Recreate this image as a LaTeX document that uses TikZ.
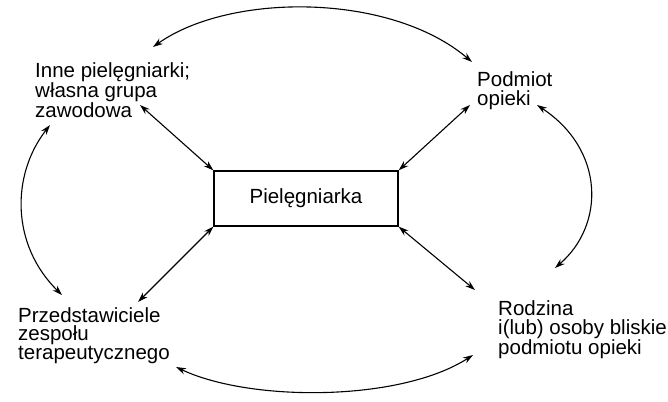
\documentclass[tikz,border=0pt]{standalone}
\usepackage{fontspec}
\setmainfont{Liberation Sans}
\usetikzlibrary{arrows.meta}
\begin{document}
\begin{tikzpicture}[x=1pt,y=-1pt,
  lbl/.style={anchor=north west, inner sep=0pt, align=left,
    font=\fontsize{20.5}{18.9}\selectfont},
  centerbox/.style={draw, line width=1.3pt, minimum width=184pt,
    minimum height=55pt, inner sep=0pt, font=\fontsize{20.5}{20}\selectfont},
  link/.style={line width=1.1pt, {Stealth[length=10pt,width=6.5pt]}-{Stealth[length=10pt,width=6.5pt]}}]
\useasboundingbox (0,0) rectangle (668,401);

% central box
\node[centerbox] (nurse) at (306,198.5) {Pielęgniarka};

% the four partners
\node[lbl] (peers) at (35,62) {Inne pielęgniarki;\\własna grupa\\zawodowa};
\node[lbl] (client) at (477,71.7) {Podmiot\\opieki};
\node[lbl] (team) at (18,307) {Przedstawiciele\\zespołu\\terapeutycznego};
\node[lbl] (family) at (498,300.7) {Rodzina\\i(lub) osoby bliskie\\podmiotu opieki};

% connector ends beside the labels
\coordinate (peersIn) at (140,105);
\coordinate (clientIn) at (470,105);
\coordinate (teamIn) at (138,302);
\coordinate (familyIn) at (475,290);

\coordinate (peersTop) at (153,47);
\coordinate (clientTop) at (472,62);
\coordinate (peersLow) at (50,125);
\coordinate (teamUp) at (62,295);
\coordinate (clientLow) at (537,105);
\coordinate (familyUp) at (555,268);
\coordinate (teamLow) at (176,367);
\coordinate (familyLow) at (473,355);

% spokes to the nurse
\draw[link] (peersIn) -- (nurse.north west);
\draw[link] (clientIn) -- (nurse.north east);
\draw[link] (nurse.south west) -- (teamIn);
\draw[link] (nurse.south east) -- (familyIn);

% outer ring
\draw[link] (peersTop) .. controls (230,-7.5) and (390,-7.5) .. (clientTop);
\draw[link] (peersLow) .. controls (11,175) and (11,245) .. (teamUp);
\draw[link] (clientLow) .. controls (605,150) and (605,225) .. (familyUp);
\draw[link] (teamLow) .. controls (250,402) and (400,402) .. (familyLow);
\end{tikzpicture}
\end{document}
